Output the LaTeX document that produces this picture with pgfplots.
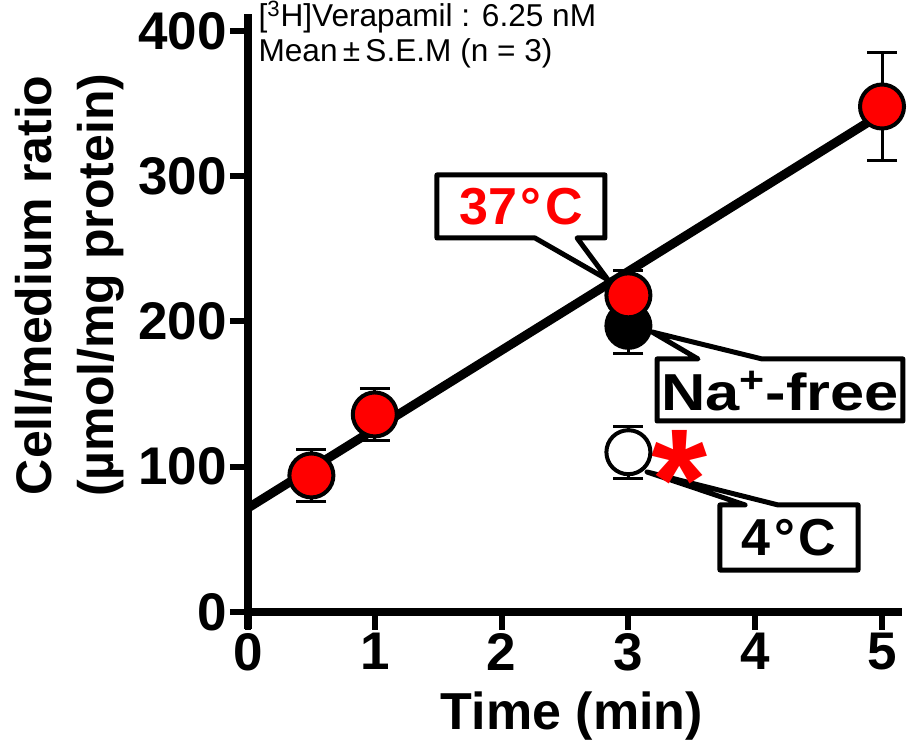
\documentclass[border=0pt]{standalone}
\usepackage{pgfplots}
\pgfplotsset{compat=1.18}
\usepackage{fontspec}
\setmainfont{Liberation Sans}
\definecolor{myred}{RGB}{255,0,0}
\begin{document}
\begin{tikzpicture}
\path[use as bounding box] (-124pt,-65pt) rectangle (330pt,306pt);
\begin{axis}[
  x=63.4pt, y=0.72625pt,
  xmin=0, xmax=5.16, ymin=0, ymax=412,
  axis lines=left,
  axis line style={-, line width=4pt, black},
  y axis line style={shorten <=-8.7pt},
  tick align=outside,
  major tick length=9pt,
  tick style={line width=3pt, black},
  xtick={0,1,2,3,4,5}, ytick={0,100,200,300,400},
  /pgf/number format/assume math mode=true,
  ticklabel style={font=\bfseries\fontsize{26.5}{26}\selectfont, inner sep=1.5pt},
  xlabel={Time (min)},
  xlabel style={at={(axis description cs:0.495,-0.197)}, anchor=base, font=\bfseries\fontsize{26}{26}\selectfont},
  ylabel={Cell/medium ratio\\(µmol/mg protein)},
  ylabel style={at={(axis description cs:-0.272,0.546)}, anchor=center, align=center, font=\bfseries\fontsize{25}{31}\selectfont},
  clip=false,
]
% callout boxes
\draw[line width=2.5pt, fill=white, line join=round] (axis cs:1.49,300.9) -- (axis cs:2.815,300.9) -- (axis cs:2.815,257.5) -- (axis cs:2.595,257.5) -- (axis cs:2.84,228.6) -- (axis cs:2.263,257.5) -- (axis cs:1.49,257.5) -- cycle;
\draw[line width=2.5pt, fill=white, line join=round] (axis cs:3.226,174.2) -- (axis cs:3.549,174.2) -- (axis cs:3.186,192.8) -- (axis cs:4.054,174.2) -- (axis cs:5.165,174.2) -- (axis cs:5.165,131.5) -- (axis cs:3.226,131.5) -- cycle;
\draw[line width=2.5pt, fill=white, line join=round] (axis cs:3.722,73.7) -- (axis cs:3.92,73.7) -- (axis cs:3.147,96.4) -- (axis cs:4.18,73.7) -- (axis cs:4.811,73.7) -- (axis cs:4.811,28.9) -- (axis cs:3.722,28.9) -- cycle;
\node[font=\bfseries\fontsize{26}{26}\selectfont, text=myred, inner sep=0] at (axis cs:2.153,278.8) {37\kern0.07em°\kern0.07em C};
\node[font=\bfseries\fontsize{26}{26}\selectfont, inner sep=0] at (axis cs:4.195,152.2) {\scalebox{1.18}[1]{Na\textsuperscript{+}-free}};
\node[font=\bfseries\fontsize{26}{26}\selectfont, inner sep=0] at (axis cs:4.266,51) {4\kern0.07em°\kern0.07em C};
\node[font=\bfseries\fontsize{72}{72}\selectfont, text=myred, inner sep=0, anchor=base] at (axis cs:3.40,57) {*};
% regression line
\addplot[line width=4.5pt, black, no marks] coordinates {(0,71.6) (5,343.1)};
% Na+-free
\addplot[only marks, mark=*, mark size=11pt, mark options={fill=black, draw=black, line width=2pt},
  error bars/.cd, y dir=both, y explicit,
  error bar style={line width=1.5pt, black},
  error mark options={rotate=90, line width=1.5pt, mark size=7.5pt, black}]
  coordinates {(3,197) +- (0,19)};
% 4 C
\addplot[only marks, mark=*, mark size=11pt, mark options={fill=white, draw=black, line width=2pt},
  error bars/.cd, y dir=both, y explicit,
  error bar style={line width=1.5pt, black},
  error mark options={rotate=90, line width=1.5pt, mark size=7.5pt, black}]
  coordinates {(3,110) +- (0,18)};
% 37 C
\addplot[only marks, mark=*, mark size=11pt, mark options={fill=myred, draw=black, line width=2pt},
  error bars/.cd, y dir=both, y explicit,
  error bar style={line width=1.5pt, black},
  error mark options={rotate=90, line width=1.5pt, mark size=7.5pt, black}]
  coordinates {(0.5,94) +- (0,18) (1,136) +- (0,18) (3,218) +- (0,17) (5,348) +- (0,37)};
% annotation
\node[anchor=base west, font=\fontsize{15.8}{15}\selectfont, inner sep=0] at (axis cs:0.08,402.8) {[\textsuperscript{3}H]Verapamil : 6.25 nM};
\node[anchor=base west, font=\fontsize{15.8}{15}\selectfont, inner sep=0] at (axis cs:0.08,378.7) {Mean\,±\,S.E.M (n = 3)};
\end{axis}
\end{tikzpicture}
\end{document}
